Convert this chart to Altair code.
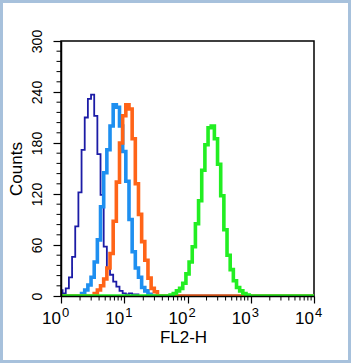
import altair as alt
import pandas as pd

# ---------------- data ----------------
# positions are log10(FL2-H); counts per channel
navy_log = [0.00, 0.05, 0.10, 0.15, 0.20, 0.25, 0.30, 0.35, 0.40, 0.45, 0.50, 0.55, 0.60,
            0.65, 0.70, 0.75, 0.80, 0.85, 0.90, 0.95, 1.00, 1.05, 1.10, 1.15, 1.20, 1.25, 4.00]
navy_cnt = [7, 3, 9, 22, 46, 82, 122, 172, 210, 232, 237, 212, 167,
            119, 58, 33, 25, 17, 11, 6, 3, 2, 3, 2, 2, 0, 0]

blue_log = [0.00, 0.30, 0.35, 0.40, 0.45, 0.50, 0.55, 0.60, 0.65, 0.70, 0.75, 0.80, 0.85,
            0.90, 0.95, 1.00, 1.05, 1.10, 1.15, 1.20, 1.25, 1.30, 1.35, 1.40, 1.45, 4.00]
blue_cnt = [0, 0, 3, 7, 13, 22, 40, 66, 105, 145, 172, 200, 225,
            222, 200, 170, 135, 90, 52, 33, 22, 10, 6, 2, 0, 0]

orange_log = [0.00, 0.50, 0.55, 0.60, 0.65, 0.70, 0.75, 0.80, 0.85, 0.90, 0.95, 1.00, 1.05,
              1.10, 1.15, 1.20, 1.25, 1.30, 1.35, 1.40, 1.45, 1.50, 1.55, 4.00]
orange_cnt = [0, 0, 3, 7, 12, 20, 33, 50, 88, 134, 180, 212, 225,
              220, 185, 132, 96, 64, 42, 21, 9, 5, 0, 0]

green_log = [0.00, 1.70, 1.75, 1.80, 1.85, 1.90, 1.95, 2.00, 2.05, 2.10, 2.15, 2.20, 2.25,
             2.30, 2.35, 2.40, 2.45, 2.50, 2.55, 2.60, 2.65, 2.70, 2.75, 2.80, 2.85, 2.90,
             2.95, 3.00, 4.00]
green_cnt = [0, 0, 1, 3, 6, 9, 15, 26, 40, 58, 85, 112, 148,
             178, 198, 200, 185, 155, 118, 78, 48, 31, 18, 10, 6, 3,
             1, 0, 0]

series_names = ["navy", "blue", "orange", "green"]
series_colors = ["#1c1ca6", "#1e8ff0", "#ff6418", "#22ee22"]
series_widths = [1.8, 3.6, 3.6, 3.6]

decades = [1, 10, 100, 1000, 10000]
exponents = ["0", "1", "2", "3", "4"]
minor_mult = [2, 3, 4, 5, 6, 7, 8, 9]
y_major = [0, 60, 120, 180, 240, 300]
y_minor = [12, 24, 36, 48, 72, 84, 96, 108, 132, 144, 156, 168,
           192, 204, 216, 228, 252, 264, 276, 288]

# ---------------- tables ----------------
rows = []
for name, logs, cnts in zip(series_names,
                            [navy_log, blue_log, orange_log, green_log],
                            [navy_cnt, blue_cnt, orange_cnt, green_cnt]):
    for lg, c in zip(logs, cnts):
        rows.append({"series": name, "fl2h": 10 ** lg, "count": c})
df = pd.DataFrame(rows)

minor_x = pd.DataFrame({"fl2h": [m * d for d in decades[:-1] for m in minor_mult]})
minor_y = pd.DataFrame({"count": y_minor})
lab = pd.DataFrame({"fl2h": decades, "exp": exponents, "base": ["10"] * 5})

W, H = 253, 255
FONT = "Liberation Sans"

xscale = alt.Scale(type="log", domain=[1, 10000], nice=False)
yscale = alt.Scale(domain=[0, 300], nice=False)

xaxis = alt.Axis(values=decades, labels=False, tickSize=7, tickWidth=1.2,
                 tickColor="black", domainColor="black", domainWidth=1.5,
                 grid=False, title="FL2-H", titleFontSize=17,
                 titleFontWeight="normal", titlePadding=26,
                 titleX=122, titleAlign="center", zindex=1)
yaxis = alt.Axis(values=y_major, tickSize=8, tickWidth=1.2, tickColor="black",
                 domainColor="black", domainWidth=1.5, grid=False,
                 labelAngle=270, labelFontSize=14, labelPadding=9,
                 labelFlush=False, labelOverlap=False,
                 title="Counts", titleFontSize=17, titleFontWeight="normal",
                 titlePadding=5, zindex=1)


def X(field="fl2h"):
    return alt.X(f"{field}:Q", scale=xscale, axis=xaxis)


def Y(field="count"):
    return alt.Y(f"{field}:Q", scale=yscale, axis=yaxis)


layers = []
for name, col, sw in zip(series_names, series_colors, series_widths):
    layers.append(
        alt.Chart(df).transform_filter(alt.datum.series == name)
        .mark_line(interpolate="step", color=col, strokeWidth=sw, clip=True)
        .encode(x=X(), y=Y())
    )

minor_x_rules = alt.Chart(minor_x).mark_rule(color="black", strokeWidth=1).encode(
    x=X(), y=alt.value(H), y2=alt.value(H + 4.5))
minor_y_rules = alt.Chart(minor_y).mark_rule(color="black", strokeWidth=1).encode(
    y=Y(), x=alt.value(-4.5), x2=alt.value(0))

base_text = alt.Chart(lab).mark_text(align="right", baseline="alphabetic",
                                     fontSize=17, font=FONT, color="black").encode(
    x=X(), y=alt.value(H + 28), text="base:N")
exp_text = alt.Chart(lab).mark_text(align="left", baseline="alphabetic", dx=1,
                                    fontSize=13, font=FONT, color="black").encode(
    x=X(), y=alt.value(H + 21), text="exp:N")

frame = alt.Chart(alt.Data(values=[{}])).mark_rect(
    filled=False, stroke="#a7c1dc", strokeWidth=3).encode(
    x=alt.value(-59.5), x2=alt.value(W + 35.5),
    y=alt.value(-39.5), y2=alt.value(H + 65.5))

chart = alt.layer(*layers, minor_x_rules, minor_y_rules, base_text, exp_text, frame).properties(
    width=W, height=H,
    autosize=alt.AutoSizeParams(type="none"),
    padding={"left": 61, "top": 41, "right": 37, "bottom": 67},
    background="white",
).configure_view(stroke="black", strokeWidth=1.5).configure_axis(
    labelFont=FONT, titleFont=FONT, labelColor="black", titleColor="black")

chart.save("out.html", embed_options={"renderer": "svg", "actions": False})
